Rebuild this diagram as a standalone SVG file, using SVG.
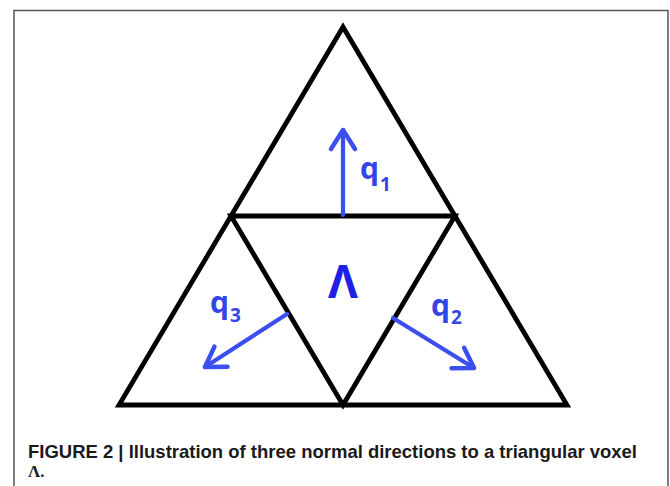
<svg xmlns="http://www.w3.org/2000/svg" width="670" height="486" viewBox="0 0 670 486">
<defs>
<style>
.frame{fill:none;stroke:#555;stroke-width:1.5}
.tri{fill:none;stroke:#000;stroke-width:4.8;stroke-linejoin:miter;stroke-linecap:round}
.arrow{fill:none;stroke:#3b4ef0;stroke-width:4.2;stroke-linecap:round}
.lbl{font-family:"Open Sans","Liberation Sans",sans-serif;font-weight:bold;fill:#3344e8}
.sub{font-size:19px}
.cap{font-family:"Liberation Sans",Arial,sans-serif;font-weight:bold;fill:#1a1a1a}
</style>
<marker id="head" markerUnits="userSpaceOnUse" markerWidth="40" markerHeight="40" viewBox="-25 -20 40 40" refX="0" refY="0" orient="auto" overflow="visible">
<path d="M-19,-12 L0,0 L-19,12" fill="none" stroke="#3b4ef0" stroke-width="4.5" stroke-linecap="round" stroke-linejoin="round"/>
</marker>
</defs>
<rect class="frame" x="14" y="10.5" width="654" height="490"/>
<g id="triangle">
<path class="tri" d="M343,27 L119,405 L567,405 Z"/>
<path class="tri" d="M231,216 L455,216 L343,405 Z"/>
</g>
<g id="connectors">
<path class="arrow" d="M343,215 L343,130" marker-end="url(#head)"/>
<path class="arrow" d="M393,318 L474,368" marker-end="url(#head)"/>
<path class="arrow" d="M287,314 L205,367" marker-end="url(#head)"/>
</g>
<g id="q1"><text class="lbl" x="360" y="179" font-size="30">q<tspan class="sub" dx="1" dy="12">1</tspan></text></g>
<g id="q2"><text class="lbl" x="431" y="316" font-size="30">q<tspan class="sub" dx="1" dy="8">2</tspan></text></g>
<g id="q3"><text class="lbl" x="210" y="313" font-size="30">q<tspan class="sub" dx="1" dy="9">3</tspan></text></g>
<g id="lambda"><text x="343" y="298" text-anchor="middle" font-family="'Open Sans','Liberation Sans',sans-serif" font-weight="bold" font-size="46" fill="#1f1fe6">Λ</text></g>
<g id="caption">
<text class="cap" x="28" y="458" font-size="18.5" textLength="609" lengthAdjust="spacingAndGlyphs">FIGURE 2 | Illustration of three normal directions to a triangular voxel</text>
<text x="28" y="477" font-family="'Liberation Serif','Times New Roman',serif" font-size="17" font-weight="bold" fill="#1a1a1a">Λ.</text>
</g>
</svg>
